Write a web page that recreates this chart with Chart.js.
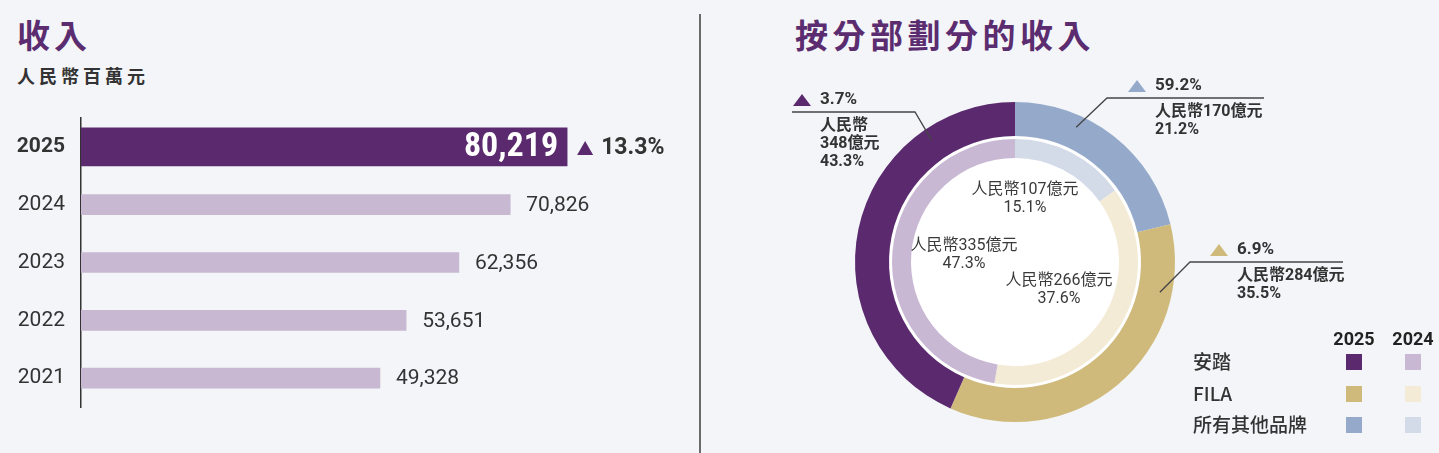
<!DOCTYPE html>
<html lang="zh-Hant">
<head>
<meta charset="utf-8">
<title>收入</title>
<script src="https://cdn.jsdelivr.net/npm/chart.js@4.4.1/dist/chart.umd.min.js"></script>
<style>
  body { margin: 0; width: 1439px; height: 453px; overflow: hidden; position: relative; background: #f3f5f8; font-family: 'Noto Sans CJK TC', sans-serif; }
  .title { position: absolute; color: #5b2c6f; font-size: 33px; font-weight: 700; line-height: 33px; white-space: nowrap; }
  .sub { position: absolute; left: 17px; top: 66px; color: #333; font-size: 18px; font-weight: 700; line-height: 18px; letter-spacing: 4px; }
  .divider { position: absolute; left: 699px; top: 14px; width: 2px; height: 439px; background: #6b6b6b; }
  #bar-box { position: absolute; left: 0; top: 0; width: 700px; height: 453px; }
  #donut-box { position: absolute; left: 700px; top: 0; width: 739px; height: 453px; }
</style>
</head>
<body>
<div class="title" style="left:17px; top:18px; letter-spacing:4px;">收入</div>
<div class="sub">人民幣百萬元</div>
<div class="title" style="left:795px; top:18px; letter-spacing:4.5px;">按分部劃分的收入</div>
<div class="divider"></div>
<div id="bar-box"><canvas id="barChart"></canvas></div>
<div id="donut-box"><canvas id="donutChart"></canvas></div>

<script>
'use strict';

//********************* Data *************************/
let years = ['2025', '2024', '2023', '2022', '2021'];
let revenue = [80219, 70826, 62356, 53651, 49328];
let revenueGrowth = 13.3;

// segments in drawing order, clockwise from the top
let segments = ['所有其他品牌', 'FILA', '安踏'];
let segRevenue2025 = [170, 284, 348];
let segShare2025 = [21.2, 35.5, 43.3];
let segGrowth = [59.2, 6.9, 3.7];
let segRevenue2024 = [107, 266, 335];
let segShare2024 = [15.1, 37.6, 47.3];
let legendYears = ['2025', '2024'];

//********************* Styles *************************/
let purple = '#5b2a6e';
let barColors = ['#5b2a6e', '#c8b8d2'];
let colors2025 = ['#95aacb', '#d0ba7b', '#5b2a6e'];
let colors2024 = ['#d3dbe9', '#f3ebd5', '#c9b8d4'];
let textColor = '#333333';
let numFont = "Roboto, 'Noto Sans CJK TC', sans-serif";
let condFont = "'Roboto Condensed', 'Liberation Sans Narrow', 'Arial Narrow', Roboto, sans-serif";
let cjkFont = "'Noto Sans CJK TC', sans-serif";

//********************* Helpers *************************/
function triangle(ctx, x, y, w, h, color) {
  ctx.fillStyle = color;
  ctx.beginPath();
  ctx.moveTo(x, y + h / 2);
  ctx.lineTo(x + w, y + h / 2);
  ctx.lineTo(x + w / 2, y - h / 2);
  ctx.closePath();
  ctx.fill();
}

//********************* Bar chart *************************/
const barLabels = {
  id: 'barLabels',
  afterDatasetsDraw(chart) {
    const ctx = chart.ctx;
    ctx.save();
    ctx.textBaseline = 'middle';
    chart.data.datasets.forEach((ds, d) => {
      chart.getDatasetMeta(d).data.forEach((bar, i) => {
        if (ds.data[i] === null) return;
        let txt = revenue[i].toLocaleString('en-US');
        if (i === 0) {
          ctx.font = `bold 34px ${condFont}`;
          ctx.fillStyle = '#ffffff';
          ctx.textAlign = 'right';
          ctx.fillText(txt, bar.x - 9, bar.y + 1);
          let tx = bar.x + 10;
          triangle(ctx, tx, bar.y + 1, 16, 14, purple);
          ctx.font = `bold 23px ${numFont}`;
          ctx.fillStyle = textColor;
          ctx.textAlign = 'left';
          ctx.fillText(revenueGrowth.toFixed(1) + '%', tx + 24, bar.y + 1);
        } else {
          ctx.font = `21px ${numFont}`;
          ctx.fillStyle = textColor;
          ctx.textAlign = 'left';
          ctx.fillText(txt, bar.x + 16, bar.y + 1);
        }
      });
    });
    ctx.restore();
  }
};

new Chart(document.getElementById('barChart'), {
  type: 'bar',
  data: {
    labels: years,
    datasets: [{
      data: revenue.map((v, i) => i === 0 ? v : null),
      backgroundColor: barColors[0],
      barThickness: 38,
      grouped: false
    },
    {
      data: revenue.map((v, i) => i === 0 ? null : v),
      backgroundColor: barColors[1],
      barThickness: 20,
      grouped: false
    }]
  },
  options: {
    indexAxis: 'y',
    responsive: true,
    maintainAspectRatio: false,
    animation: false,
    events: [],
    layout: { padding: { left: 0, right: 13, top: 118, bottom: 46 } },
    scales: {
      x: { display: false, min: 0, max: 100000 },
      y: {
        afterFit(scale) { scale.width = 81; },
        grid: { display: false },
        border: { display: true, color: '#333333', width: 1.5 },
        ticks: {
          padding: 8,
          color: textColor,
          font: (c) => ({ family: numFont, size: 21, weight: c.index === 0 ? 'bold' : 'normal' })
        }
      }
    },
    plugins: { legend: { display: false }, tooltip: { enabled: false } }
  },
  plugins: [barLabels]
});

//********************* Doughnut chart *************************/
// callout positions in canvas px (canvas starts at x=700)
let callouts = [
  { t: 0.32, elbow: [407, 98], end: 564, textX: 455, split: false },
  { t: 0.2, elbow: [490, 262], end: 643, textX: 537, split: false },
  { t: 0.78, elbow: [215, 112], end: 92, textX: 120, split: true }
];
let innerOffsets = [[10, -72], [44, 19], [-51, -16]];
let legendPos = { x: 493, cols: [654, 713], headY: 340, rows: [425, 394, 362] };

const donutLabels = {
  id: 'donutLabels',
  beforeDatasetsDraw(chart) {
    const arc = chart.getDatasetMeta(0).data[0];
    const ctx = chart.ctx;
    ctx.save();
    ctx.fillStyle = '#ffffff';
    ctx.beginPath();
    ctx.arc(arc.x, arc.y, arc.innerRadius, 0, Math.PI * 2);
    ctx.fill();
    ctx.restore();
  },
  afterDatasetsDraw(chart) {
    const ctx = chart.ctx;
    const outer = chart.getDatasetMeta(0).data;
    const cx = outer[0].x;
    const cy = outer[0].y;
    ctx.save();
    ctx.textBaseline = 'middle';

    // outer callouts
    outer.forEach((arc, i) => {
      let c = callouts[i];
      let a = arc.startAngle + c.t * (arc.endAngle - arc.startAngle);
      let r = arc.outerRadius - 12;
      ctx.strokeStyle = '#444444';
      ctx.lineWidth = 1.3;
      ctx.beginPath();
      ctx.moveTo(cx + r * Math.cos(a), cy + r * Math.sin(a));
      ctx.lineTo(c.elbow[0], c.elbow[1]);
      ctx.lineTo(c.end, c.elbow[1]);
      ctx.stroke();

      let y0 = c.elbow[1];
      triangle(ctx, c.textX - 27, y0 - 12, 18, 12, colors2025[i]);
      ctx.fillStyle = textColor;
      ctx.textAlign = 'left';
      ctx.font = `bold 17px ${numFont}`;
      ctx.fillText(segGrowth[i].toFixed(1) + '%', c.textX, y0 - 12);
      ctx.font = `bold 16px ${numFont}`;
      let lines = c.split
        ? ['人民幣', segRevenue2025[i] + '億元', segShare2025[i].toFixed(1) + '%']
        : ['人民幣' + segRevenue2025[i] + '億元', segShare2025[i].toFixed(1) + '%'];
      lines.forEach((l, k) => ctx.fillText(l, c.textX, y0 + 14 + k * 18));
    });

    // inner labels
    ctx.textAlign = 'center';
    ctx.font = `16px ${numFont}`;
    ctx.fillStyle = '#3a3a3a';
    segments.forEach((s, i) => {
      let o = innerOffsets[i];
      ctx.fillText('人民幣' + segRevenue2024[i] + '億元', cx + o[0], cy + o[1]);
      ctx.fillText(segShare2024[i].toFixed(1) + '%', cx + o[0], cy + o[1] + 18);
    });

    // legend
    ctx.font = `bold 18px ${numFont}`;
    ctx.fillStyle = '#222222';
    legendYears.forEach((y, k) => ctx.fillText(y, legendPos.cols[k], legendPos.headY));
    ctx.textAlign = 'left';
    ctx.font = `500 19px ${cjkFont}`;
    segments.forEach((s, i) => {
      let y = legendPos.rows[i];
      ctx.fillStyle = textColor;
      ctx.fillText(s, legendPos.x, y);
      [colors2025[i], colors2024[i]].forEach((col, k) => {
        ctx.fillStyle = col;
        ctx.fillRect(legendPos.cols[k] - 8, y - 8, 16, 16);
      });
    });
    ctx.restore();
  }
};

new Chart(document.getElementById('donutChart'), {
  type: 'doughnut',
  data: {
    labels: segments,
    datasets: [{
      label: '2025',
      data: segRevenue2025,
      backgroundColor: colors2025,
      borderWidth: 0,
      hoverOffset: 0,
      weight: 34
    },
    {
      label: 'gap',
      data: [1],
      backgroundColor: 'rgba(0,0,0,0)',
      borderWidth: 0,
      hoverOffset: 0,
      weight: 3
    },
    {
      label: '2024',
      data: segRevenue2024,
      backgroundColor: colors2024,
      borderWidth: 0,
      hoverOffset: 0,
      weight: 19
    }]
  },
  options: {
    responsive: true,
    maintainAspectRatio: false,
    animation: false,
    events: [],
    rotation: 0,
    cutout: '65%',
    layout: { padding: { left: 155, right: 264, top: 102, bottom: 31 } },
    plugins: { legend: { display: false }, tooltip: { enabled: false } }
  },
  plugins: [donutLabels]
});
</script>
</body>
</html>
